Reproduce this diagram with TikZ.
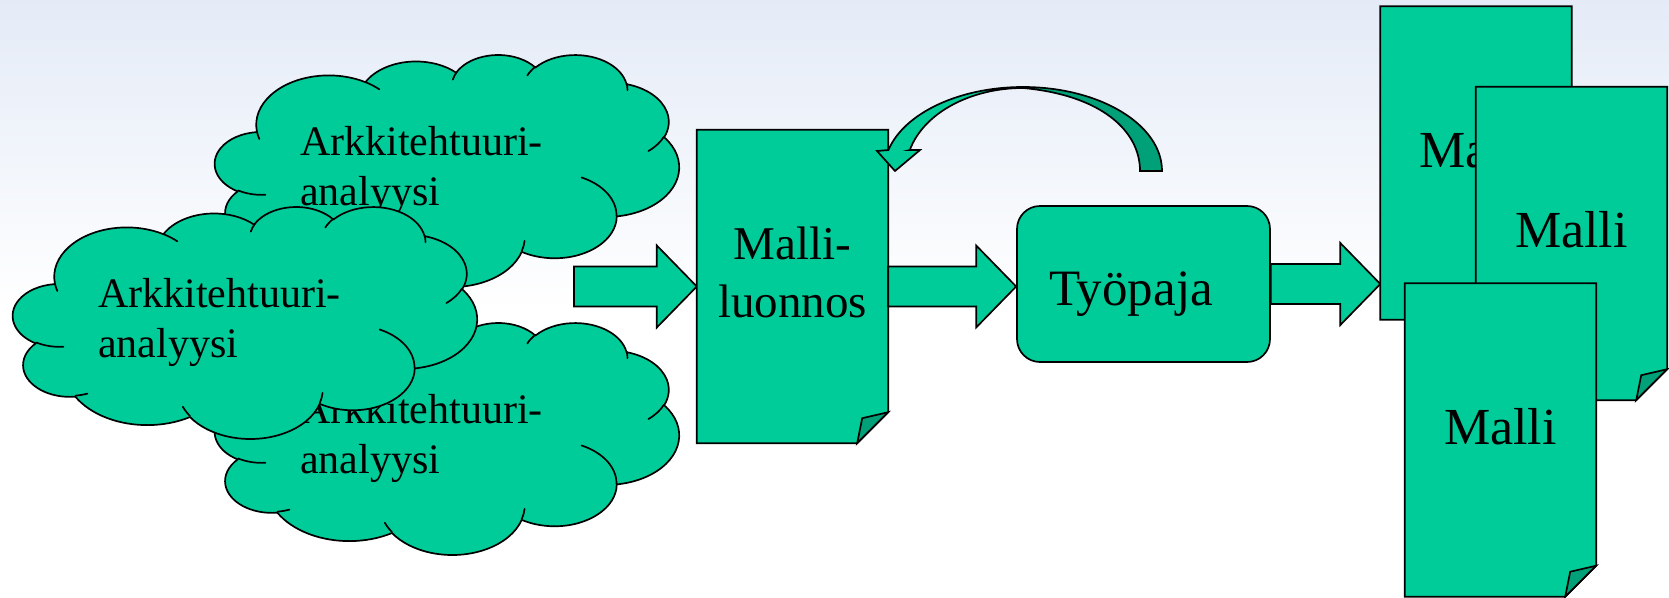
\documentclass[tikz,border=0pt]{standalone}
\usepackage{fontspec}
\setmainfont{Liberation Serif}
\usetikzlibrary{calc}

\definecolor{mint}{RGB}{0,204,153}
\definecolor{mintdark}{RGB}{0,160,120}
\definecolor{skytop}{RGB}{228,235,247}

\tikzset{
  % elliptical arc given by radii, visual start angle and visual sweep
  ooarc/.style n args={4}{%
    /utils/exec={%
      \pgfmathsetmacro\ooStart{atan2(sin(#3)*(#1),cos(#3)*(#2))}%
      \pgfmathsetmacro\ooEnd{atan2(sin((#3)+(#4))*(#1),cos((#3)+(#4))*(#2))}%
      \pgfmathsetmacro\ooDelta{mod(\ooEnd-(\ooStart)+720,360)}%
    },
    x radius=#1, y radius=#2, start angle=\ooStart, delta angle=\ooDelta},
  ink/.style={draw=black, line width=1.7pt},
  greenshape/.style={ink, fill=mint},
  darkshape/.style={ink, fill=mintdark},
  docbox/.style={inner sep=0pt, minimum width=191pt, minimum height=313pt},
  cloudtext/.style={inner sep=0pt, anchor=base west, font=\fontsize{42}{50}\selectfont},
  drafttext/.style={inner sep=0pt, anchor=base, font=\fontsize{47}{57}\selectfont},
  boxtext/.style={inner sep=0pt, anchor=base, font=\fontsize{51}{60}\selectfont},
  doctext/.style={inner sep=0pt, anchor=base, font=\fontsize{52}{60}\selectfont},
}

% cloud outline in a 432 x 432 frame, scaled into a 464 x 232 box
\newcommand\cloudshape[2]{%
  \begin{scope}[shift={(#1,#2)}, xscale=1.0741, yscale=0.5368]
    \filldraw[greenshape, line join=round] (39,143.7)
      arc[ooarc={67.53}{91.90}{-190.4875}{123.7805}]
      arc[ooarc={53.33}{72.67}{-144.1024}{89.9452}]
      arc[ooarc={43.65}{59.45}{-145.8079}{99.7230}]
      arc[ooarc={48.57}{65.95}{-130.9861}{117.2417}]
      arc[ooarc={53.33}{72.73}{-78.7089}{109.0269}]
      arc[ooarc={67.75}{92.20}{-46.2673}{130.2690}]
      arc[ooarc={57.85}{78.67}{0.6250}{114.0333}]
      arc[ooarc={67.52}{92.15}{22.4516}{115.1726}]
      arc[ooarc={77.20}{105.43}{66.2426}{75.7110}]
      arc[ooarc={43.60}{59.18}{-274.9421}{146.7356}]
      arc[ooarc={43.45}{59.45}{-246.8285}{152.5189}]
      -- cycle;
    \draw[ink, line cap=round]
      (46.93,261.77) arc[ooarc={43.45}{59.45}{86.7420}{26.4295}]
      (69.28,348.99) arc[ooarc={43.60}{59.18}{73.6105}{11.4475}]
      (164.78,390.90) arc[ooarc={67.52}{92.15}{137.6242}{14.0811}]
      (288.27,347.51) arc[ooarc={67.52}{92.15}{6.4533}{15.9984}]
      (341.29,229.54) arc[ooarc={57.85}{78.67}{-70.2924}{70.9174}]
      (417.98,153.54) arc[ooarc={53.33}{72.73}{30.3180}{27.7515}]
      (383.24,54.26) arc[ooarc={48.57}{65.95}{-13.7443}{14.8589}]
      (290.78,39.52) arc[ooarc={48.57}{65.95}{-149.1815}{18.1954}]
      (221.41,47.20) arc[ooarc={43.65}{59.45}{-163.4943}{17.6864}]
      (140.00,51.92) arc[ooarc={67.53}{91.90}{-66.7070}{12.3194}]
      (41.27,157.89) arc[ooarc={67.53}{91.90}{157.6544}{11.8582}];
  \end{scope}}

% sheet of paper with a folded lower right corner, drawn on a docbox node
\newcommand\docsheet[1]{%
  \filldraw[greenshape] (#1.north west) -- (#1.north east) -- ($(#1.south east)+(0,-31)$)
    -- ($(#1.south east)+(-31,0)$) -- (#1.south west) -- cycle;
  \filldraw[darkshape] ($(#1.south east)+(-31,0)$) -- ($(#1.south east)+(-26,-25)$)
    -- ($(#1.south east)+(0,-31)$) -- cycle;}

% wide block arrow from one point to a tip at the same height
\newcommand\blockarrow[2]{%
  \filldraw[greenshape] ($(#1)+(0,-20)$) -- ($(#2)+(-40,-20)$) -- ($(#2)+(-40,-41)$)
    -- (#2) -- ($(#2)+(-40,41)$) -- ($(#2)+(-40,20)$) -- ($(#1)+(0,20)$) -- cycle;}

\begin{document}
\begin{tikzpicture}[x=1pt, y=-1pt]
  \useasboundingbox (0,0) rectangle (1669,597);
  \fill[top color=skytop, bottom color=white] (0,0) rectangle (1669,310);
  \fill[white] (0,310) rectangle (1669,597);

  % the three analysis clouds
  \cloudshape{215}{54.25}
  \node[cloudtext] (c1a) at (300,155) {Arkkitehtuuri-};
  \node[cloudtext] (c1b) at (300,205) {analyysi};
  \cloudshape{215}{322.25}
  \node[cloudtext] (c3a) at (300,423) {Arkkitehtuuri-};
  \node[cloudtext] (c3b) at (300,473) {analyysi};
  \cloudshape{13}{206.25}
  \node[cloudtext] (c2a) at (98,307) {Arkkitehtuuri-};
  \node[cloudtext] (c2b) at (98,357) {analyysi};

  % frames of the sheets and the workshop box
  \node[docbox] (luonnos) at (792.5,286.5) {};
  \node[docbox] (back) at (1476,163) {};
  \node[docbox] (middle) at (1571.5,243.5) {};
  \node[docbox] (front) at (1500.5,440) {};
  \node[greenshape, rounded corners=23pt, inner sep=0pt,
        minimum width=253pt, minimum height=156pt] (tyopaja) at (1143.5,284) {};
  \node[boxtext] (tyolabel) at (1131,305) {Työpaja};

  % clouds -> draft
  \coordinate (feed) at (574,286.5);
  \blockarrow{feed}{luonnos.west}
  \docsheet{luonnos}
  \node[drafttext] (l1) at ($(luonnos.center)+(0,-27.5)$) {Malli-};
  \node[drafttext] (l2) at ($(luonnos.center)+(0,30.5)$) {luonnos};

  % feedback arrow from the workshop back to the draft
  \filldraw[greenshape] (909.8,150) -- (920,150) -- (895,171) -- (877,151) -- (888.4,150)
    arc[start angle=194.48, end angle=270, x radius=139, y radius=84]
    -- (1023,88) arc[start angle=270, end angle=194.66, x radius=117, y radius=83] -- cycle;
  \filldraw[darkshape] (1023,87) arc[start angle=270, end angle=360, x radius=139, y radius=84]
    -- (1140,171) .. controls (1140,130) and (1100,95) .. (1023,88) -- cycle;

  % draft -> workshop -> models
  \coordinate (a2tip) at (tyopaja.west |- luonnos.east);
  \blockarrow{luonnos.east}{a2tip}
  \coordinate (a3tip) at (back.west |- tyopaja.east);
  \blockarrow{tyopaja.east}{a3tip}

  % the resulting models
  \docsheet{back}
  \node[doctext] (m1) at ($(back.center)+(0,4)$) {Malli};
  \docsheet{middle}
  \node[doctext] (m2) at ($(middle.center)+(0,3.5)$) {Malli};
  \docsheet{front}
  \node[doctext] (m3) at ($(front.center)+(0,4)$) {Malli};
\end{tikzpicture}
\end{document}
